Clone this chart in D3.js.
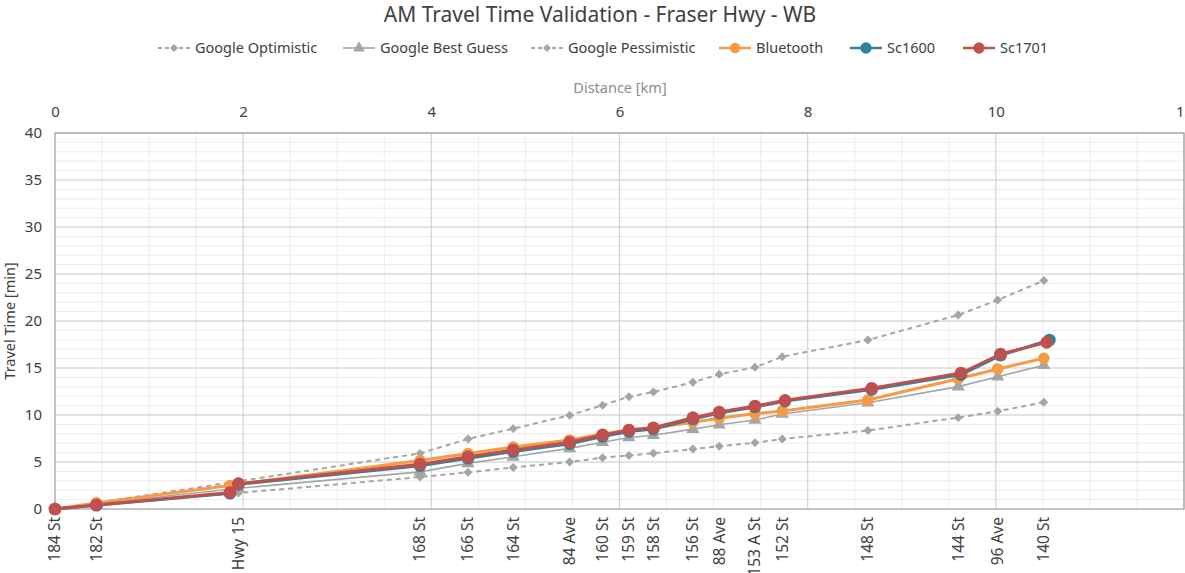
<!DOCTYPE html>
<html>
<head>
<meta charset="utf-8">
<script src="https://cdn.jsdelivr.net/npm/d3@7"></script>
<style>
	body { margin: 0; background: #fff; }
	svg { font-family: "Noto Sans", "Open Sans", sans-serif; }
</style>
</head>
<body>
<svg width="1185" height="573"></svg>
<script>
// stations along Fraser Hwy, westbound
var stationNames = ["184 St", "182 St", "Hwy 15", "168 St", "166 St", "164 St", "84 Ave", "160 St", "159 St",
	"158 St", "156 St", "88 Ave", "153 A St", "152 St", "148 St", "144 St", "96 Ave", "140 St"];
var stationKm = [0, 0.44, 1.95, 3.88, 4.39, 4.87, 5.47, 5.82, 6.10, 6.36, 6.78, 7.06, 7.44, 7.73, 8.64, 9.60, 10.02, 10.51];

var googleOptimistic = [0, 0.45, 1.7, 3.4, 3.9, 4.42, 5.0, 5.46, 5.7, 5.93, 6.38, 6.68, 7.05, 7.45, 8.35, 9.72, 10.4, 11.35];
var googleBestGuess = [0, 0.55, 2.2, 3.95, 4.85, 5.55, 6.45, 7.1, 7.6, 7.85, 8.5, 8.97, 9.47, 10.1, 11.3, 13.02, 14.07, 15.3];
var googlePessimistic = [0, 0.65, 2.95, 5.92, 7.45, 8.55, 9.98, 11.03, 11.95, 12.45, 13.48, 14.33, 15.07, 16.2, 17.98, 20.64, 22.23, 24.3];

var bluetoothKm = [0, 0.44, 1.86, 3.88, 4.39, 4.87, 5.47, 5.82, 6.10, 6.36, 6.78, 7.06, 7.44, 7.73, 8.64, 9.60, 10.02, 10.51];
var bluetooth = [0, 0.65, 2.5, 5.15, 5.9, 6.6, 7.35, 7.98, 8.4, 8.62, 9.22, 9.65, 10.15, 10.43, 11.6, 13.85, 14.9, 16.03];

var sc1701Km = [0, 0.44, 1.86, 1.95, 3.88, 4.39, 4.87, 5.47, 5.82, 6.10, 6.36, 6.78, 7.06, 7.44, 7.76, 8.68, 9.63, 10.05, 10.54];
var sc1701 = [0, 0.42, 1.75, 2.7, 4.77, 5.55, 6.28, 7.1, 7.87, 8.4, 8.65, 9.72, 10.32, 10.96, 11.56, 12.84, 14.47, 16.49, 17.73];
var sc1600Km = [0, 0.44, 1.86, 1.95, 3.88, 4.39, 4.87, 5.47, 5.82, 6.10, 6.36, 6.78, 7.06, 7.44, 7.76, 8.68, 9.63, 10.05, 10.57];
var sc1600 = [0, 0.4, 1.68, 2.62, 4.6, 5.4, 6.12, 6.95, 7.72, 8.25, 8.5, 9.58, 10.2, 10.85, 11.48, 12.7, 14.3, 16.35, 17.98];

var xTicks = [0, 2, 4, 6, 8, 10, 12];
var yTicks = [0, 5, 10, 15, 20, 25, 30, 35, 40];

var series = [
	{ name: "Google Optimistic", km: stationKm, values: googleOptimistic, color: "#a5a5a5", width: 2, dash: "5,4", marker: "diamond", size: 40 },
	{ name: "Google Best Guess", km: stationKm, values: googleBestGuess, color: "#a5a5a5", width: 1.6, dash: null, marker: "triangle", size: 75 },
	{ name: "Google Pessimistic", km: stationKm, values: googlePessimistic, color: "#a5a5a5", width: 2, dash: "5,4", marker: "diamond", size: 40 },
	{ name: "Bluetooth", km: bluetoothKm, values: bluetooth, color: "#f59a45", width: 3, dash: null, marker: "circle", size: 105 },
	{ name: "Sc1600", km: sc1600Km, values: sc1600, color: "#2f8399", width: 3, dash: null, marker: "circle", size: 125 },
	{ name: "Sc1701", km: sc1701Km, values: sc1701, color: "#c0504d", width: 3, dash: null, marker: "circle", size: 125 }
];

var plotLeft = 55, plotRight = 1184, plotTop = 133, plotBottom = 509;

var x = d3.scaleLinear().domain([0, 12]).range([plotLeft, plotRight]);
var y = d3.scaleLinear().domain([0, 40]).range([plotBottom, plotTop]);

var svg = d3.select("svg");

// minor grid
svg.append("g").selectAll("line")
	.data(d3.range(0.5, 12, 0.5).filter(function (d) { return d % 2 !== 0; }))
	.enter().append("line")
	.attr("x1", function (d) { return x(d); }).attr("x2", function (d) { return x(d); })
	.attr("y1", plotTop).attr("y2", plotBottom)
	.attr("stroke", "#ececec").attr("stroke-width", 1);
svg.append("g").selectAll("line")
	.data(d3.range(1, 40).filter(function (d) { return d % 5 !== 0; }))
	.enter().append("line")
	.attr("x1", plotLeft).attr("x2", plotRight)
	.attr("y1", function (d) { return y(d); }).attr("y2", function (d) { return y(d); })
	.attr("stroke", "#ececec").attr("stroke-width", 1);

// major grid
svg.append("g").selectAll("line")
	.data(xTicks.slice(1))
	.enter().append("line")
	.attr("x1", function (d) { return x(d); }).attr("x2", function (d) { return x(d); })
	.attr("y1", plotTop).attr("y2", plotBottom)
	.attr("stroke", "#d4d4d4").attr("stroke-width", 1.2);
svg.append("g").selectAll("line")
	.data(yTicks.slice(1))
	.enter().append("line")
	.attr("x1", plotLeft).attr("x2", plotRight)
	.attr("y1", function (d) { return y(d); }).attr("y2", function (d) { return y(d); })
	.attr("stroke", "#c8c8c8").attr("stroke-width", 1.2);

// frame
svg.append("rect")
	.attr("x", plotLeft).attr("y", plotTop)
	.attr("width", plotRight - plotLeft).attr("height", plotBottom - plotTop)
	.attr("fill", "none").attr("stroke", "#a6a6a6").attr("stroke-width", 1.3);

// axes
svg.append("g")
	.attr("transform", "translate(" + plotLeft + ",0)")
	.call(d3.axisLeft(y).tickValues(yTicks).tickSize(0).tickPadding(13));
svg.append("g")
	.attr("transform", "translate(0," + plotTop + ")")
	.call(d3.axisTop(x).tickValues(xTicks).tickSize(0).tickPadding(16));
svg.selectAll(".domain").remove();
svg.selectAll(".tick text")
	.attr("font-size", 15).attr("fill", "#404040")
	.style("font-family", "'Noto Sans', sans-serif");

svg.append("text")
	.attr("x", 620).attr("y", 93)
	.attr("text-anchor", "middle")
	.attr("font-size", 14.5).attr("fill", "#8c8c8c")
	.text("Distance [km]");

svg.append("text")
	.attr("transform", "translate(15,321) rotate(-90)")
	.attr("text-anchor", "middle")
	.attr("font-size", 14.5).attr("fill", "#404040")
	.text("Travel Time [min]");

// station labels
svg.append("g").selectAll("text")
	.data(stationNames)
	.enter().append("text")
	.attr("transform", function (d, i) { return "translate(" + x(stationKm[i]) + ",517) rotate(-90)"; })
	.attr("text-anchor", "end")
	.attr("dy", "0.35em")
	.attr("font-size", 15.5).attr("fill", "#404040")
	.text(function (d) { return d; });

// series
// diamond = square turned 45 degrees, like Excel's marker
var symbolTypes = { diamond: d3.symbolSquare, triangle: d3.symbolTriangle, circle: d3.symbolCircle };
function markerTurn(s) { return s.marker === "diamond" ? " rotate(45)" : ""; }

var line = d3.line()
	.x(function (d) { return x(d[0]); })
	.y(function (d) { return y(d[1]); });

series.forEach(function (s) {
	var pts = s.values.map(function (v, i) { return [s.km[i], v]; });
	var g = svg.append("g");
	g.append("path")
		.datum(pts)
		.attr("d", line)
		.attr("fill", "none")
		.attr("stroke", s.color)
		.attr("stroke-width", s.width)
		.attr("stroke-dasharray", s.dash)
		.attr("stroke-linejoin", "round");
	g.selectAll(".pt")
		.data(pts)
		.enter().append("path")
		.attr("class", "pt")
		.attr("transform", function (d) { return "translate(" + x(d[0]) + "," + y(d[1]) + ")" + markerTurn(s); })
		.attr("d", d3.symbol().type(symbolTypes[s.marker]).size(s.size))
		.attr("fill", s.color);
});

// title
svg.append("text")
	.attr("x", 600).attr("y", 22)
	.attr("text-anchor", "middle")
	.attr("font-size", 21).attr("fill", "#404040")
	.text("AM Travel Time Validation - Fraser Hwy - WB");

// legend
var legendX = [158, 343, 531, 719, 850, 963];
var legend = svg.append("g").selectAll("g")
	.data(series)
	.enter().append("g")
	.attr("transform", function (d, i) { return "translate(" + legendX[i] + ",48)"; });
legend.append("line")
	.attr("x1", 0).attr("x2", 32)
	.attr("stroke", function (d) { return d.color; })
	.attr("stroke-width", function (d) { return d.dash ? 1.8 : (d.width > 2 ? 2.5 : 1.6); })
	.attr("stroke-dasharray", function (d) { return d.dash ? "4,3" : null; });
legend.append("path")
	.attr("transform", function (d) { return "translate(16,0)" + markerTurn(d); })
	.attr("d", function (d) { return d3.symbol().type(symbolTypes[d.marker]).size(d.size * 0.8)(); })
	.attr("fill", function (d) { return d.color; });
legend.append("text")
	.attr("x", 37).attr("dy", "0.35em")
	.attr("font-size", 14.5).attr("fill", "#404040")
	.text(function (d) { return d.name; });
</script>
</body>
</html>
